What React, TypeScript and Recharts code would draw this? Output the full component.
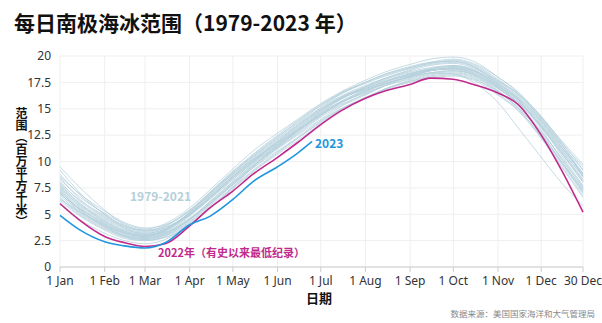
import React from 'react';
import { LineChart, Line, XAxis, YAxis, CartesianGrid } from 'recharts';

// day-of-year for each sample point (1st and 15th of each month, plus 30 Dec)
const days = [0, 14, 31, 45, 59, 73, 90, 104, 120, 134, 151, 165, 181, 195, 212, 226, 243, 257, 273, 287, 304, 318, 334, 348, 363];

const tickDays = [0, 31, 59, 90, 120, 151, 181, 212, 243, 273, 304, 334, 363];
const tickLabels = ['1 Jan', '1 Feb', '1 Mar', '1 Apr', '1 May', '1 Jun', '1 Jul', '1 Aug', '1 Sep', '1 Oct', '1 Nov', '1 Dec', '30 Dec'];
const yTicks = [0, 2.5, 5, 7.5, 10, 12.5, 15, 17.5, 20];

// 1979-2021 historical years (million km²)
const history = [
  [7.8, 6.0, 4.6, 3.6, 3.2, 3.6, 5.0, 6.6, 8.4, 10.0, 11.8, 13.1, 14.7, 15.9, 16.9, 17.6, 18.2, 18.7, 18.8, 18.4, 17.1, 15.8, 13.5, 11.0, 8.3],
  [7.0, 5.3, 3.9, 3.0, 2.8, 3.1, 4.5, 6.0, 7.9, 9.4, 11.2, 12.5, 14.0, 15.2, 16.3, 17.2, 18.1, 18.6, 18.9, 18.6, 17.3, 16.0, 13.7, 11.3, 8.9],
  [8.5, 6.4, 4.8, 3.8, 3.4, 3.9, 5.3, 7.0, 9.0, 10.5, 12.2, 13.6, 15.1, 16.2, 17.2, 17.9, 18.5, 18.9, 19.1, 18.7, 17.4, 16.0, 13.8, 11.4, 8.9],
  [6.5, 4.9, 3.6, 2.8, 2.5, 2.9, 4.2, 5.8, 7.6, 9.2, 10.9, 12.2, 13.8, 15.0, 16.0, 16.9, 17.6, 18.1, 18.3, 17.9, 16.4, 14.9, 12.4, 9.8, 7.0],
  [9.5, 7.5, 5.4, 4.0, 3.5, 3.8, 5.0, 6.5, 8.3, 9.9, 11.6, 12.9, 14.5, 15.6, 16.7, 17.5, 18.2, 18.6, 18.8, 18.5, 17.2, 15.9, 13.6, 11.2, 8.6],
  [7.6, 5.7, 4.3, 3.4, 3.0, 3.4, 4.9, 6.6, 8.6, 10.2, 11.9, 13.3, 14.9, 16.1, 17.1, 17.9, 18.6, 19.1, 19.3, 18.9, 17.5, 16.1, 13.9, 11.6, 9.2],
  [6.8, 5.1, 3.8, 2.9, 2.6, 3.0, 4.4, 6.0, 7.8, 9.4, 11.0, 12.3, 13.9, 15.0, 16.1, 16.9, 17.7, 18.2, 18.4, 18.0, 16.6, 15.1, 12.6, 9.9, 7.2],
  [8.1, 6.2, 4.7, 3.7, 3.3, 3.7, 5.1, 6.8, 8.8, 10.4, 12.1, 13.5, 15.0, 16.1, 17.0, 17.7, 18.3, 18.8, 19.0, 18.6, 17.2, 15.8, 13.3, 10.8, 8.0],
  [7.2, 5.4, 4.0, 3.1, 2.8, 3.2, 4.8, 6.5, 8.5, 10.1, 11.8, 13.2, 14.8, 16.0, 17.1, 17.9, 18.7, 19.3, 19.6, 19.2, 17.8, 16.3, 14.1, 11.8, 9.5],
  [7.0, 5.2, 3.9, 3.0, 2.7, 3.0, 4.3, 5.9, 7.8, 9.5, 11.3, 12.7, 14.3, 15.5, 16.6, 17.4, 18.0, 18.4, 18.3, 17.5, 15.6, 13.2, 10.4, 8.0, 5.8],
  [6.1, 4.5, 3.2, 2.5, 2.2, 2.6, 4.0, 5.6, 7.4, 9.0, 10.7, 12.0, 13.6, 14.9, 16.0, 16.9, 17.6, 18.0, 18.2, 17.8, 16.6, 15.1, 12.7, 10.0, 7.1],
  [8.3, 6.6, 5.1, 4.1, 3.6, 4.1, 5.6, 7.3, 9.3, 11.0, 12.7, 14.0, 15.5, 16.6, 17.7, 18.5, 19.2, 19.7, 19.9, 19.5, 18.0, 16.6, 14.2, 11.7, 8.8],
  [7.5, 5.8, 4.4, 3.4, 3.1, 3.5, 5.0, 6.7, 8.7, 10.3, 12.0, 13.4, 14.9, 16.0, 16.9, 17.6, 18.3, 18.7, 18.8, 18.3, 16.9, 15.5, 13.2, 10.8, 8.1],
  [6.9, 5.5, 4.1, 3.2, 2.9, 3.3, 4.6, 6.1, 8.0, 9.6, 11.3, 12.6, 14.2, 15.3, 16.4, 17.2, 17.9, 18.4, 18.6, 18.2, 16.9, 15.6, 13.4, 11.1, 8.5],
  [7.9, 6.0, 4.3, 3.3, 2.9, 3.2, 4.6, 6.2, 8.1, 9.7, 11.4, 12.8, 14.4, 15.6, 16.6, 17.4, 18.1, 18.6, 18.8, 18.4, 17.0, 15.4, 12.9, 10.3, 7.6],
  [6.6, 5.0, 3.7, 2.9, 2.7, 3.1, 4.5, 6.2, 8.1, 9.8, 11.5, 12.9, 14.5, 15.7, 16.8, 17.6, 18.3, 18.8, 19.0, 18.6, 17.1, 15.7, 13.3, 10.6, 7.7],
  [8.8, 6.8, 5.0, 3.9, 3.4, 3.7, 5.1, 6.6, 8.5, 10.0, 11.7, 13.0, 14.6, 15.7, 16.7, 17.4, 18.0, 18.4, 18.6, 18.3, 17.0, 15.6, 13.4, 10.9, 8.2],
  [7.4, 5.6, 4.1, 3.2, 2.9, 3.4, 4.9, 6.4, 8.3, 9.9, 11.5, 12.9, 14.4, 15.6, 16.5, 17.2, 17.8, 18.3, 18.5, 18.1, 16.7, 15.3, 12.8, 10.4, 7.5],
  [7.7, 5.9, 4.5, 3.5, 3.2, 3.6, 5.2, 7.0, 9.0, 10.6, 12.4, 13.7, 15.3, 16.4, 17.4, 18.1, 18.8, 19.2, 19.4, 19.0, 17.6, 16.2, 13.9, 11.4, 8.7],
  [6.3, 4.8, 3.5, 2.7, 2.5, 2.8, 4.1, 5.6, 7.5, 9.1, 10.8, 12.2, 13.7, 14.9, 16.0, 16.8, 17.5, 17.9, 18.1, 17.7, 16.3, 14.8, 12.2, 9.5, 6.6],
  [7.1, 5.5, 4.2, 3.3, 3.0, 3.5, 5.1, 6.9, 8.9, 10.5, 12.3, 13.8, 15.3, 16.5, 17.5, 18.2, 18.9, 19.4, 19.7, 19.3, 18.0, 16.5, 14.3, 11.9, 9.2],
  [8.0, 6.3, 4.9, 3.9, 3.5, 3.9, 5.4, 7.1, 9.1, 10.7, 12.5, 13.9, 15.4, 16.5, 17.5, 18.3, 18.9, 19.3, 19.5, 19.1, 17.7, 16.4, 14.0, 11.6, 8.6],
  [9.2, 7.0, 5.0, 3.7, 3.1, 3.3, 4.5, 6.0, 7.9, 9.6, 11.4, 12.9, 14.6, 15.9, 17.0, 17.8, 18.4, 18.7, 18.7, 18.2, 16.7, 15.0, 12.3, 9.6, 6.8],
  [6.4, 5.2, 4.0, 3.2, 3.0, 3.5, 5.2, 7.0, 8.8, 10.2, 11.7, 13.0, 14.4, 15.4, 16.4, 17.3, 18.1, 18.7, 19.1, 18.8, 17.6, 16.4, 14.2, 12.0, 9.7],
  [7.3, 5.4, 3.8, 2.9, 2.6, 2.8, 4.0, 5.5, 7.6, 9.5, 11.6, 13.1, 14.8, 16.0, 16.8, 17.4, 18.0, 18.6, 18.9, 18.6, 17.4, 15.9, 13.1, 10.2, 7.3],
  [8.6, 6.9, 5.3, 4.2, 3.7, 4.0, 5.4, 6.8, 8.6, 10.1, 11.9, 13.4, 15.1, 16.4, 17.5, 18.3, 19.0, 19.4, 19.5, 19.0, 17.3, 15.4, 12.6, 10.0, 7.4],
];

const y2022 = [6.0, 4.4, 2.9, 2.3, 1.95, 2.2, 3.9, 5.6, 7.2, 8.8, 10.4, 11.8, 13.5, 14.8, 16.0, 16.7, 17.3, 17.9, 17.8, 17.3, 16.5, 15.4, 12.5, 9.2, 5.2];

const days2023 = [0, 14, 31, 45, 59, 73, 90, 104, 120, 134, 151, 165, 175];
const y2023 = [4.9, 3.5, 2.4, 2.0, 1.8, 2.3, 4.0, 4.8, 6.4, 8.1, 9.5, 10.8, 11.9];

const toPoints = (xs: number[], ys: number[]) => xs.map((d, i) => ({ day: d, v: ys[i] }));

const cjk = '"Noto Sans CJK SC", "Noto Sans", sans-serif';

export default function App() {
  return (
    <div style={{ position: 'absolute', left: 0, top: 0, width: 602, height: 323, background: '#fff', fontFamily: cjk }}>
      <div style={{ position: 'absolute', left: 14, top: 8, fontSize: 21, fontWeight: 700, color: '#111', lineHeight: '28px' }}>
        每日南极海冰范围（1979-2023 年）
      </div>

      <LineChart width={602} height={323} margin={{ top: 56, right: 19, bottom: 26, left: 0 }}>
        <CartesianGrid stroke="#efefef" />
        <XAxis
          type="number"
          dataKey="day"
          domain={[0, 363]}
          ticks={tickDays}
          tickFormatter={(d) => tickLabels[tickDays.indexOf(d)]}
          height={30}
          stroke="#cccccc"
          tickSize={5}
          tickMargin={4}
          tick={{ fill: '#333', fontSize: 12, fontFamily: '"Noto Sans", sans-serif' }}
          interval={0}
          allowDuplicatedCategory={false}
        />
        <YAxis
          type="number"
          domain={[0, 20]}
          ticks={yTicks}
          width={60}
          axisLine={false}
          tickLine={false}
          tickMargin={3}
          tick={{ fill: '#333', fontSize: 12, fontFamily: '"Noto Sans", sans-serif' }}
        />
        {history.map((ys, i) => (
          <Line
            key={i}
            data={toPoints(days, ys)}
            dataKey="v"
            type="monotone"
            stroke="#b3cfdb"
            strokeOpacity={0.75}
            strokeWidth={1}
            dot={false}
            isAnimationActive={false}
          />
        ))}
        <Line data={toPoints(days, y2022)} dataKey="v" type="monotone" stroke="#c02a8c" strokeWidth={1.6} dot={false} isAnimationActive={false} />
        <Line data={toPoints(days2023, y2023)} dataKey="v" type="monotone" stroke="#2196df" strokeWidth={1.6} dot={false} isAnimationActive={false} />
      </LineChart>

      <div style={{ position: 'absolute', left: 14, top: 107, writingMode: 'vertical-rl', fontSize: 12, fontWeight: 700, color: '#111', lineHeight: '14px' }}>
        范围（百万平方千米）
      </div>
      <div style={{ position: 'absolute', left: 130, top: 187, fontSize: 12, fontWeight: 700, color: '#b5cfdb', lineHeight: '18px' }}>1979-2021</div>
      <div style={{ position: 'absolute', left: 315, top: 134, fontSize: 12, fontWeight: 700, color: '#2196df', lineHeight: '18px' }}>2023</div>
      <div style={{ position: 'absolute', left: 158, top: 243, fontSize: 11, fontWeight: 700, color: '#c02a8c', lineHeight: '18px' }}>2022年（有史以来最低纪录）</div>
      <div style={{ position: 'absolute', left: 306, top: 290, fontSize: 13, fontWeight: 700, color: '#111', lineHeight: '16px' }}>日期</div>
      <div style={{ position: 'absolute', right: 7, top: 306, fontSize: 8.5, color: '#888', lineHeight: '14px' }}>数据来源：美国国家海洋和大气管理局</div>
    </div>
  );
}
